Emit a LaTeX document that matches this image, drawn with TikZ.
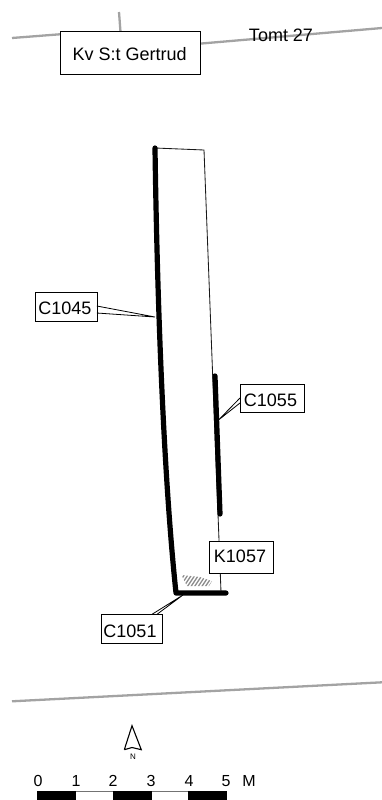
\documentclass[tikz,border=0pt]{standalone}
\usepackage{fontspec}
\setmainfont{Liberation Sans}
\usetikzlibrary{patterns}
\begin{document}
\begin{tikzpicture}[x=1pt,y=-1pt,
  labelbox/.style={draw=black,fill=white,line width=0.8pt,inner sep=0pt,anchor=north west},
  labeltext/.style={inner sep=0pt,font=\fontsize{18}{20}\selectfont},
  boundary/.style={draw=black!36,line width=2.3pt},
  thin outline/.style={draw=black!90,line width=0.85pt},
  wall/.style={draw=black,line width=5.2pt,line cap=round,line join=round},
  leader/.style={draw=black,line width=0.8pt},
  scalelabel/.style={font=\fontsize{16}{18}\selectfont,anchor=base}]
\useasboundingbox (0,0) rectangle (382,800);
% property boundaries
\coordinate (tl) at (12,38);
\coordinate (tr) at (382,28);
\coordinate (tv) at (119,12);
\coordinate (tj) at (120.5,32);
\coordinate (bl) at (12,701.3);
\coordinate (br) at (382,682.3);
\draw[boundary] (tl) -- (70,33.5);
\draw[boundary] (190,44.5) -- (tr);
\draw[boundary] (tv) -- (tj);
\draw[boundary] (bl) -- (br);
\node[labelbox,minimum width=140pt,minimum height=43pt] (kv) at (60,31) {};
\node[labeltext] (kvt) at (129.7,54) {Kv S:t Gertrud};
\node[labeltext,anchor=base] (tomt) at (281,42) {Tomt 27};
% trench outline
\coordinate (a) at (155,148);
\coordinate (b) at (204,150);
\coordinate (c) at (221,592);
\coordinate (d) at (176,593);
\coordinate (e) at (226,593);
\coordinate (f) at (215,376);
\coordinate (g) at (220,514);
\draw[thin outline] (a) -- (b) -- (c);
% hatch
\begin{scope}
\clip (181.5,575) -- (200,577) -- (212,581) -- (209,586) -- (187,586) -- cycle;
\foreach \i in {0,...,11}{
  \draw[black!45,line width=1.3pt] (172+3.6*\i,588) -- (182+3.6*\i,573);
}
\end{scope}
% walls
\draw[wall] (a) .. controls (157,290) and (163,470) .. (d) -- (e);
\draw[wall] (f) -- (g);
% labels
\node[labelbox,minimum width=61.5pt,minimum height=28.5pt] (c1045) at (35.3,292) {};
\node[labeltext] (c1045l) at (65,308) {C1045};
\coordinate (c1045t) at (155,317);
\draw[leader] (96.8,306) -- (c1045t) -- (96.8,313);
\node[labelbox,minimum width=64pt,minimum height=28pt] (c1055) at (240,384) {};
\node[labeltext] (c1055l) at (270.5,400.5) {C1055};
\coordinate (c1055t) at (218.5,420);
\draw[leader] (240,398) -- (c1055t) -- (240,403);
\node[labelbox,minimum width=64pt,minimum height=32pt] (k1057) at (208.7,540.7) {};
\node[labeltext] (k1057l) at (240,556.7) {K1057};
\node[labelbox,minimum width=61pt,minimum height=28.5pt] (c1051) at (100.7,614.3) {};
\node[labeltext] (c1051l) at (130,631) {C1051};
\coordinate (c1051t) at (183,595);
\draw[leader] (152,614.3) -- (c1051t) -- (157,614.3);
% north arrow
\coordinate (na) at (132,725.7);
\coordinate (nl) at (124.3,749.7);
\coordinate (nr) at (141.3,749.7);
\coordinate (nm) at (132,747.5);
\draw[black,line width=1.1pt,line join=miter] (nl) -- (na) -- (nr) .. controls (137,748) .. (nm) .. controls (128,748) .. (nl);
\node[font=\fontsize{8}{9}\selectfont,anchor=base] (north) at (133,759) {N};
% scale bar
\coordinate (s0) at (37.3,791.5);
\coordinate (s5) at (226.7,791.5);
\draw[black!55,line width=1pt] (s0) -- (s5);
\foreach \xa/\xb in {37.3/76,113/151.7,188.3/226.7}{
  \fill[black] (\xa,791.3) rectangle (\xb,799.8);
}
\node[scalelabel] (n0) at (38,786.5) {0};
\node[scalelabel] (n1) at (76,786.5) {1};
\node[scalelabel] (n2) at (113,786.5) {2};
\node[scalelabel] (n3) at (151,786.5) {3};
\node[scalelabel] (n4) at (189,786.5) {4};
\node[scalelabel] (n5) at (226,786.5) {5};
\node[scalelabel] (nM) at (249,786.5) {M};
\end{tikzpicture}
\end{document}
